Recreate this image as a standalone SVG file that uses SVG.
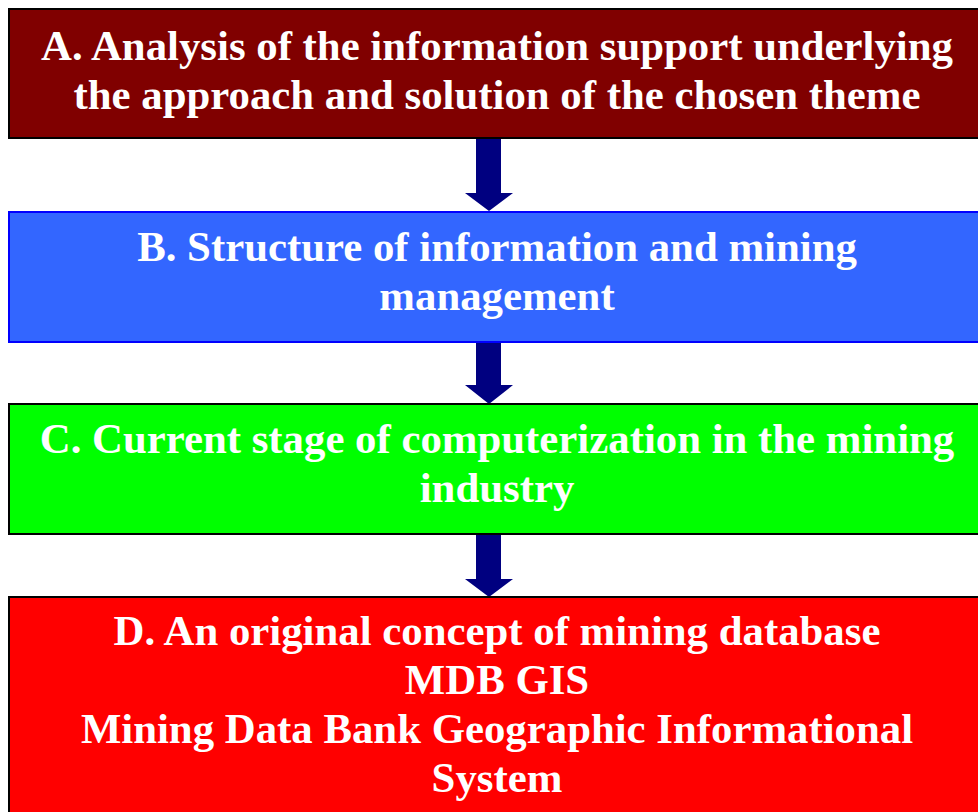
<svg xmlns="http://www.w3.org/2000/svg" width="978" height="812" viewBox="0 0 978 812">
<style>
.t{font-family:"Liberation Serif","Times New Roman",serif;font-weight:bold;font-size:42.8px;fill:#fff;text-anchor:middle}
.arr{fill:#000080}
</style>
<rect width="978" height="812" fill="#fff"/>
<g id="connectors">
<path class="arr" d="M476,139 H501 V193 H513 L489,211 L465,193 H476 Z"/>
<path class="arr" d="M476,342 H501 V385 H513 L489,404 L465,385 H476 Z"/>
<path class="arr" d="M476,534 H501 V579 H513 L489,597 L465,579 H476 Z"/>
</g>
<g id="nodeA">
<rect x="9" y="9" width="980" height="129" fill="#800000" stroke="#000" stroke-width="2"/>
<text class="t" x="497" y="60">A. Analysis of the information support underlying</text>
<text class="t" x="497" y="109">the approach and solution of the chosen theme</text>
</g>
<g id="nodeB">
<rect x="9" y="212" width="980" height="130" fill="#3366FF" stroke="#0000FF" stroke-width="2"/>
<text class="t" x="497" y="261">B. Structure of information and mining</text>
<text class="t" x="497" y="310">management</text>
</g>
<g id="nodeC">
<rect x="9" y="404" width="980" height="130" fill="#00FF00" stroke="#000" stroke-width="2"/>
<text class="t" x="497" y="453">C. Current stage of computerization in the mining</text>
<text class="t" x="497" y="502">industry</text>
</g>
<g id="nodeD">
<rect x="9" y="597" width="980" height="230" fill="#FF0000" stroke="#000" stroke-width="2"/>
<text class="t" x="497" y="645">D. An original concept of mining database</text>
<text class="t" x="497" y="694">MDB GIS</text>
<text class="t" x="497" y="743">Mining Data Bank Geographic Informational</text>
<text class="t" x="497" y="792">System</text>
</g>
</svg>
